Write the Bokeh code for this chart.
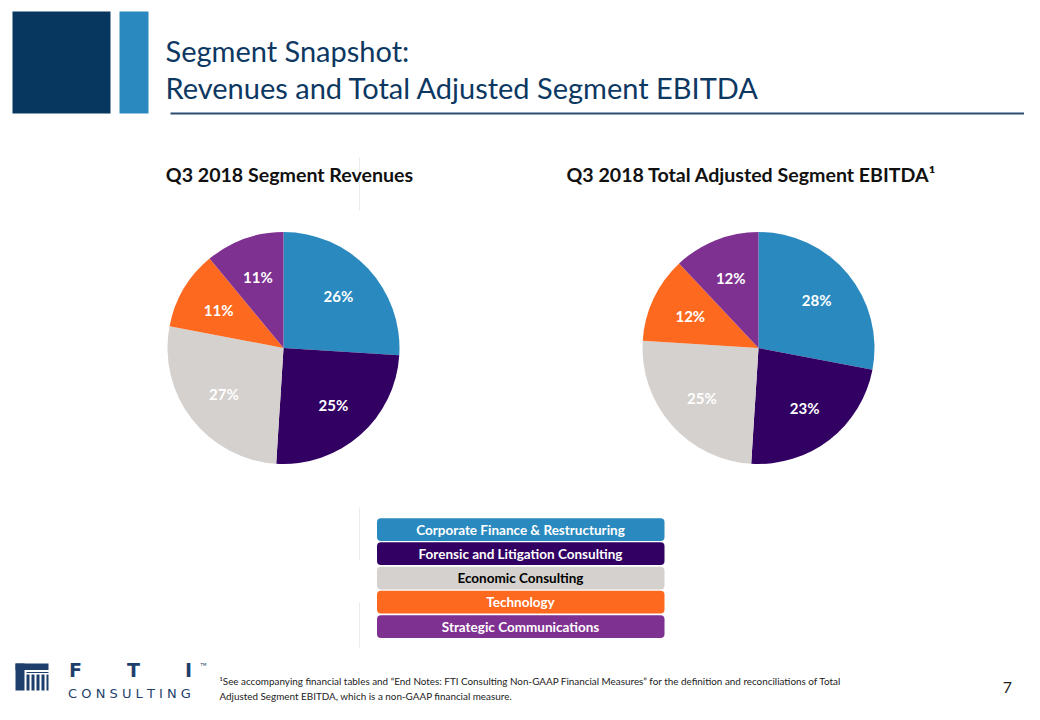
import numpy as np
from bokeh.plotting import figure
from bokeh.models import Range1d, ColumnDataSource
from bokeh.core.properties import value
from bokeh.embed import file_html
from bokeh.resources import INLINE

# ---------------- data ----------------
segments = ["Corporate Finance & Restructuring", "Forensic and Litigation Consulting",
            "Economic Consulting", "Technology", "Strategic Communications"]
revenue_pct = [26, 25, 27, 11, 11]
ebitda_pct = [28, 23, 25, 12, 12]
seg_colors = ["#2a8abf", "#310062", "#d5d1ce", "#fd6a1f", "#7f3192"]
legend_text_colors = ["white", "white", "black", "white", "white"]
pie_titles = ["Q3 2018 Segment Revenues", "Q3 2018 Total Adjusted Segment EBITDA\u00b9"]
slide_title = ["Segment Snapshot:", "Revenues and Total Adjusted Segment EBITDA"]
footnote = ["\u00b9See accompanying financial tables and \u201cEnd Notes: FTI Consulting Non-GAAP Financial Measures\u201d for the definition and reconciliations of Total",
            "Adjusted Segment EBITDA, which is a non-GAAP financial measure."]
page_number = "7"

H = 720
def Y(v):
    return H - v

FONT = value("Lato")
NAVY = "#0d3862"

p = figure(width=1024, height=704, x_range=Range1d(0, 1024), y_range=Range1d(16, 720),
           output_backend="svg", toolbar_location=None, min_border=0)
p.axis.visible = False
p.grid.visible = False
p.outline_line_color = None
p.background_fill_color = "white"

# ---------------- header ----------------
p.quad(left=[12], right=[110], top=[Y(11)], bottom=[Y(113)], fill_color="#07365f", line_color=None)
p.quad(left=[119], right=[148], top=[Y(11)], bottom=[Y(113)], fill_color="#2a8abf", line_color=None)
p.text(x=[165, 165], y=[Y(50), Y(87)], text=slide_title, text_font=FONT, text_font_size="29px",
       text_color=NAVY, text_baseline="middle", text_align="left")
p.segment(x0=[170], y0=[Y(113)], x1=[1028], y1=[Y(113)], line_color="#2f4d6e", line_width=2)

# faint separators
p.segment(x0=[359, 359, 359], y0=[Y(157), Y(507), Y(602)], x1=[359, 359, 359],
          y1=[Y(210), Y(560), Y(647)], line_color="#ececec", line_width=1)

# ---------------- pies ----------------
R = 116
centers = [(283, 347.5), (758, 347.5)]
for (cx, cy), vals, title in zip(centers, [revenue_pct, ebitda_pct], pie_titles):
    v = np.array(vals, dtype=float)
    frac = v / v.sum()
    cum_end = np.cumsum(frac)
    cum_start = cum_end - frac
    start = np.pi / 2 - cum_end * 2 * np.pi
    end = np.pi / 2 - cum_start * 2 * np.pi
    src = ColumnDataSource(dict(start=start, end=end, color=seg_colors))
    p.wedge(x=cx, y=Y(cy), radius=R, start_angle="start", end_angle="end",
            fill_color="color", line_color=None, source=src)
    mid = np.pi / 2 - (cum_start + frac / 2) * 2 * np.pi
    lr = 0.65 * R
    p.text(x=cx + lr * np.cos(mid), y=Y(cy) + lr * np.sin(mid),
           text=[f"{int(x)}%" for x in vals], text_font=FONT, text_font_size="15px",
           text_font_style="bold", text_color="white", text_align="center", text_baseline="middle")
    p.text(x=[cx + 6 if cx < 500 else cx - 7], y=[Y(174)], text=[title], text_font=FONT,
           text_font_size="19.6px", text_font_style="bold", text_color="#111111",
           text_align="center", text_baseline="middle")

# ---------------- legend boxes ----------------
tops = [517.7, 541.8, 566.3, 590.3, 614.8]
box_h = 22.7
p.quad(left=[376.5] * 5, right=[664] * 5, top=[Y(t) for t in tops],
       bottom=[Y(t + box_h) for t in tops], fill_color=seg_colors, line_color=None,
       border_radius=4)
p.text(x=[520] * 5, y=[Y(t + box_h / 2) for t in tops], text=segments, text_font=FONT,
       text_font_size="13.5px", text_font_style="bold", text_color=legend_text_colors,
       text_align="center", text_baseline="middle")

# ---------------- logo ----------------
LOGO = "#1e3f6c"
p.quad(left=[15, 15, 26, 26, 31, 36, 41, 46], right=[24, 48, 48, 29, 34, 39, 44, 48],
       top=[Y(663), Y(663), Y(671.5), Y(674), Y(674), Y(674), Y(674), Y(674)],
       bottom=[Y(690), Y(669.5), Y(672.5), Y(690), Y(690), Y(690), Y(690), Y(690)],
       fill_color=LOGO, line_color=None)
p.text(x=[75, 133, 188], y=[Y(669.5)] * 3, text=["F", "T", "I"], text_font=value("DejaVu Sans"),
       text_font_size="19px", text_font_style="bold", text_color=LOGO, text_align="center",
       text_baseline="middle")
p.text(x=[200], y=[Y(664)], text=["TM"], text_font=value("DejaVu Sans"), text_font_size="4px",
       text_color=LOGO, text_align="left", text_baseline="middle")
p.text(x=[129], y=[Y(692.5)], text=["C O N S U L T I N G"], text_font=value("DejaVu Sans"),
       text_font_size="13px", text_color=LOGO, text_align="center", text_baseline="middle")

# ---------------- footnote & page number ----------------
p.text(x=[219, 219], y=[Y(680.5), Y(695)], text=footnote, text_font=FONT, text_font_size="9.9px",
       text_color="#222222", text_align="left", text_baseline="middle")
p.text(x=[1007], y=[Y(687)], text=[page_number], text_font=FONT, text_font_size="16px",
       text_color="#222222", text_align="center", text_baseline="middle")

open("out.html", "w").write(file_html(p, INLINE))
